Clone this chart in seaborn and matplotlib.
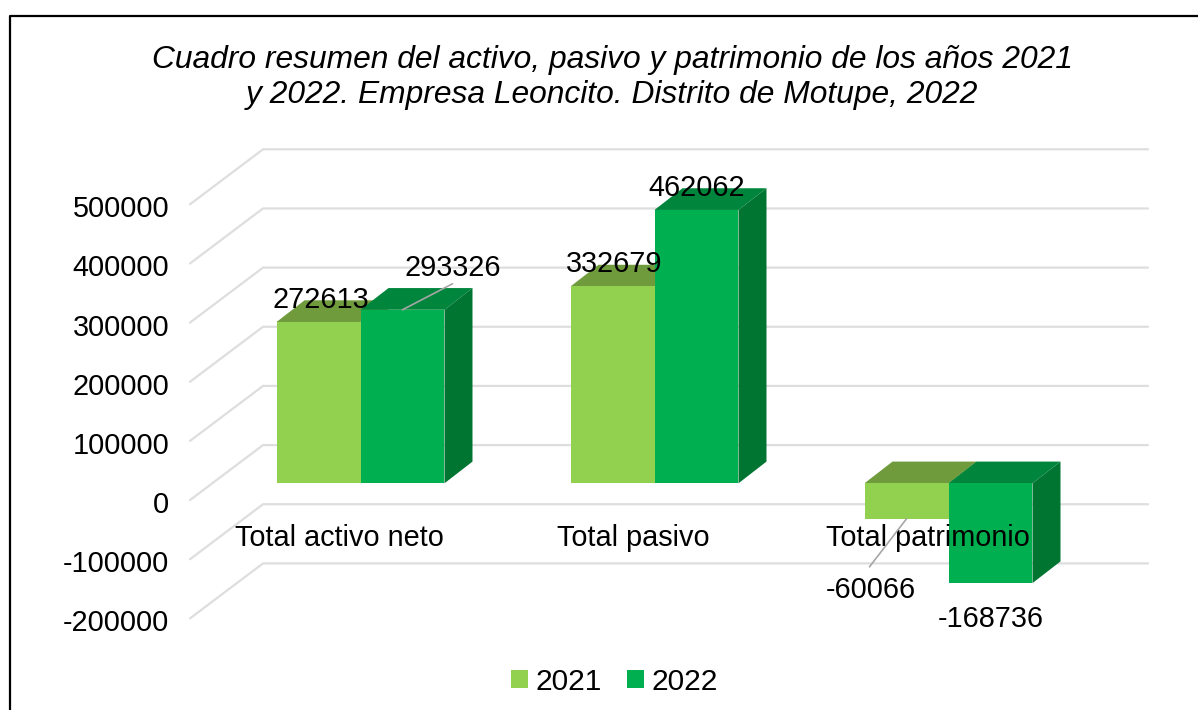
import matplotlib
matplotlib.use("Agg")
import matplotlib.pyplot as plt
from matplotlib.patches import Polygon, Rectangle
from matplotlib.lines import Line2D
from matplotlib.transforms import ScaledTranslation
import pandas as pd
import seaborn as sns

categories = ["Total activo neto", "Total pasivo", "Total patrimonio"]
values_2021 = [272613, 332679, -60066]
values_2022 = [293326, 462062, -168736]
years = ["2021", "2022"]
yticks = [500000, 400000, 300000, 200000, 100000, 0, -100000, -200000]
title = ("Cuadro resumen del activo, pasivo y patrimonio de los años 2021\n"
         "y 2022. Empresa Leoncito. Distrito de Motupe, 2022")

front_colors = {"2021": "#92D050", "2022": "#00B050"}
top_colors = {"2021": "#6F9B3D", "2022": "#00863C"}
side_colors = {"2021": "#6F9B3D", "2022": "#007532"}
grid_color = "#DEDEDE"

W, H = 1198, 710
FS = 20.8
sns.set_style("white")
plt.rcParams["font.family"] = ["Liberation Sans", "DejaVu Sans"]
plt.rcParams["text.color"] = "black"

fig = plt.figure(figsize=(W / 100, H / 100), dpi=100, facecolor="white")

# Front wall plane in pixels
PX_L, PX_R = 190, 1148
PX_TOP, PX_BOT = 204.3, 618.4
ax = fig.add_axes([PX_L / W, 1 - PX_BOT / H, (PX_R - PX_L) / W, (PX_BOT - PX_TOP) / H])

df = pd.DataFrame({
    "categoria": categories * 2,
    "valor": values_2021 + values_2022,
    "anio": [years[0]] * 3 + [years[1]] * 3,
})
sns.barplot(data=df, x="categoria", y="valor", hue="anio", hue_order=years,
            palette=front_colors, order=categories, width=0.5714, gap=0,
            saturation=1, errorbar=None, legend=False, linewidth=0, ax=ax, zorder=1)

PX_PER_CAT = 294.0
PX_PER_UNIT = 414.1 / 700000
ax.set_xlim((PX_L - 339.5) / PX_PER_CAT, (PX_R - 339.5) / PX_PER_CAT)
ax.set_ylim(-200000, 500000)


def dxy(px_x, px_y):
    """pixel offset to data offset"""
    return px_x / PX_PER_CAT, px_y / PX_PER_UNIT


# Wall and floor lines
wall_dx, wall_dy = dxy(73, 55)
x0 = ax.get_xlim()[0]
x1 = ax.get_xlim()[1]
for v in yticks:
    ax.plot([x0, x0 + wall_dx, x1], [v, v + wall_dy, v + wall_dy], color=grid_color,
            lw=1.6, zorder=0.5, clip_on=False, solid_joinstyle="miter")

# Bars sit inside the depth of the floor
shift_x, shift_y = dxy(21, 16.8)
depth_x, depth_y = dxy(28, 21.7)
for year, cont in zip(years, ax.containers):
    for p in cont.patches:
        p.set_x(p.get_x() + shift_x)
        p.set_y(shift_y)
        p.set_clip_on(False)
        xa, xb = p.get_x(), p.get_x() + p.get_width()
        v = p.get_height()
        hi = shift_y + max(v, 0)
        lo = shift_y + min(v, 0)
        z = 0.8 if year == years[0] else 0.9
        ax.add_patch(Polygon([(xa, hi), (xb, hi), (xb + depth_x, hi + depth_y), (xa + depth_x, hi + depth_y)],
                             closed=True, fc=top_colors[year], ec="none", zorder=z, clip_on=False))
        ax.add_patch(Polygon([(xb, hi), (xb + depth_x, hi + depth_y), (xb + depth_x, lo + depth_y), (xb, lo)],
                             closed=True, fc=side_colors[year], ec="none", zorder=z, clip_on=False))
        p.set_zorder(1.0 if year == years[0] else 1.1)

# Data labels: pixel offset of the text, and pixel end of the leader line
label_offsets = {
    ("2021", 0): (2, 25), ("2022", 0): (50, 45),
    ("2021", 1): (2, 25), ("2022", 1): (0.5, 25),
    ("2021", 2): (-36, -68), ("2022", 2): (0, -33),
}
leaders = {("2022", 0): (50, 26), ("2021", 2): (-37, -48)}
for year, cont in zip(years, ax.containers):
    for i, p in enumerate(cont.patches):
        v = p.get_height()
        xc = p.get_x() + p.get_width() / 2
        off = label_offsets[(year, i)]
        ax.annotate(f"{round(v)}", xy=(xc, shift_y + v), xytext=(off[0] * 0.72, off[1] * 0.72),
                    textcoords="offset points", ha="center", va="center_baseline",
                    fontsize=FS, color="black", zorder=5, annotation_clip=False)
        if (year, i) in leaders:
            lx, ly = dxy(*leaders[(year, i)])
            ax.plot([xc, xc + lx], [shift_y + v, shift_y + v + ly], color="#A6A6A6", lw=1.2,
                    zorder=4, clip_on=False)

# Axes text
ax.spines["bottom"].set_position(("data", 0))
ax.set_axisbelow(False)
ax.set_yticks(yticks)
ax.set_yticklabels([str(v) for v in yticks], fontsize=FS, color="black")
ax.tick_params(axis="y", length=0, pad=15)
ax.set_xticks(range(len(categories)))
ax.set_xticklabels(categories, fontsize=FS, color="black")
ax.tick_params(axis="x", length=0, pad=17)
nudge = ScaledTranslation(0, -2 / 100, fig.dpi_scale_trans)
for lab in ax.get_yticklabels():
    lab.set_transform(lab.get_transform() + nudge)
for s in ax.spines.values():
    s.set_visible(False)
ax.set_xlabel("")
ax.set_ylabel("")
ax.patch.set_alpha(0)

fig.text(612 / W, 1 - 77.5 / H, title, ha="center", va="center", fontsize=22.9,
         style="italic", color="black", linespacing=1.23)

# Legend
handles = [Rectangle((0, 0), 1, 1, fc=front_colors[y], ec="none") for y in years]
fig.legend(handles, years, loc="center", bbox_to_anchor=(614.5 / W, 1 - 681.5 / H),
           ncol=2, frameon=False, fontsize=21.5, handlelength=0.57, handleheight=0.57,
           handletextpad=0.26, columnspacing=0.85, borderpad=0, labelspacing=0,
           labelcolor="black")

# Outer frame
fig.add_artist(Line2D([10 / W, 10 / W, 1], [0, 1 - 16 / H, 1 - 16 / H], color="black", lw=1.6,
                      transform=fig.transFigure))

fig.savefig("out.png", dpi=100)
